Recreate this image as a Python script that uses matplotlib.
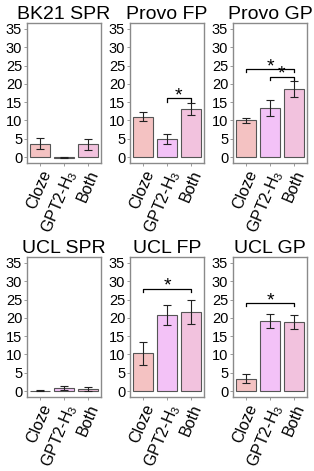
import numpy as np
import matplotlib.pyplot as plt

# -----------------------------
# Data
# -----------------------------
categories = ["Cloze", r"GPT2-H$_3$", "Both"]
bar_colors = ["#F4C2C2", "#F3C2F7", "#F2C2DE"]

titles = ["BK21 SPR", "Provo FP", "Provo GP", "UCL SPR", "UCL FP", "UCL GP"]

means = [
    [3.6, -0.1, 3.5],
    [11.0, 5.0, 13.1],
    [10.0, 13.3, 18.6],
    [0.1, 0.8, 0.6],
    [10.3, 20.7, 21.7],
    [3.4, 19.1, 18.9],
]
errors = [
    [1.5, 0.2, 1.5],
    [1.2, 1.3, 1.6],
    [0.8, 2.2, 2.1],
    [0.15, 0.6, 0.5],
    [3.2, 2.7, 3.3],
    [1.2, 2.0, 1.9],
]
# significance brackets: (panel, from index, to index, height)
brackets = [
    (1, 1, 2, 16.0),
    (2, 0, 2, 24.0),
    (2, 1, 2, 22.0),
    (4, 0, 2, 28.0),
    (5, 0, 2, 24.0),
]

yticks = [0, 5, 10, 15, 20, 25, 30, 35]

# -----------------------------
# Layout
# -----------------------------
plt.rcParams["font.family"] = ["Liberation Sans", "DejaVu Sans"]
plt.rcParams["mathtext.fontset"] = "custom"
plt.rcParams["mathtext.rm"] = "Liberation Sans"
plt.rcParams["mathtext.it"] = "Liberation Sans"

fig = plt.figure(figsize=(3.14, 4.71), dpi=100)

W, H = 314, 471
col_left = [27, 130, 233]
ax_w = 74
row_top = [23, 257]
ax_h = 140

frame_col = "#8a8a8a"
x = np.arange(1, 4)

for i in range(6):
    r, c = divmod(i, 3)
    ax = fig.add_axes([col_left[c] / W, 1 - (row_top[r] + ax_h) / H, ax_w / W, ax_h / H])
    ax.bar(x, means[i], width=0.84, color=bar_colors, edgecolor="#555555",
           linewidth=0.8, zorder=2)
    ax.errorbar(x, means[i], yerr=errors[i], fmt="none", ecolor="#222222",
                elinewidth=0.8, capsize=3, capthick=0.8, zorder=3)

    for (p, a, b, h) in brackets:
        if p != i:
            continue
        ax.plot([x[a], x[a], x[b], x[b]], [h - 0.9, h, h, h - 0.9],
                color="black", lw=0.9, zorder=3)
        ax.text((x[a] + x[b]) / 2, h - 1.6, "*", ha="center", va="bottom",
                fontsize=14, zorder=3)

    ax.set_xlim(0.45, 3.55)
    ax.set_ylim(-1.6, 36.6)
    ax.set_yticks(yticks)
    ax.set_xticks(x)
    ax.set_xticklabels(categories, rotation=67, ha="right", va="top",
                       rotation_mode="anchor", fontsize=11.5)
    ax.tick_params(axis="y", labelsize=10.5, length=2.5, width=0.6,
                   color=frame_col, pad=1)
    ax.tick_params(axis="x", length=2.5, width=0.6, color=frame_col, pad=1)
    for s in ax.spines.values():
        s.set_color(frame_col)
        s.set_linewidth(1.0)
    ax.set_title(titles[i], fontsize=14, pad=2)

fig.savefig("out.png", dpi=100)
